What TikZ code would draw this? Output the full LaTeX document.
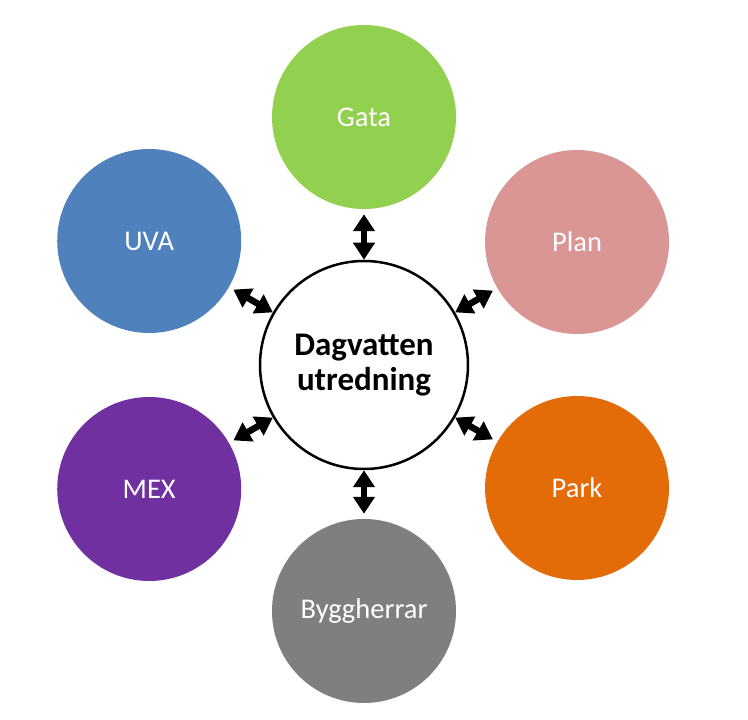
\documentclass[tikz,border=0pt]{standalone}
\usepackage{fontspec}
\setmainfont{Carlito}
\usetikzlibrary{arrows.meta}
\definecolor{gataColor}{HTML}{92D050}
\definecolor{planColor}{HTML}{D99694}
\definecolor{parkColor}{HTML}{E36C09}
\definecolor{byggColor}{HTML}{7F7F7F}
\definecolor{mexColor}{HTML}{7030A0}
\definecolor{uvaColor}{HTML}{4F81BD}
\tikzset{
  hub/.style={circle,draw=black,line width=2.5pt,fill=white,minimum size=208pt,inner sep=0pt,align=center,font=\bfseries\fontsize{33}{35}\selectfont},
  spoke/.style={circle,minimum size=184pt,inner sep=0pt,text=white,font=\fontsize{28.5}{32}\selectfont},
  link/.style={{Triangle[width=21pt,length=17pt]}-{Triangle[width=21pt,length=17pt]},line width=6.5pt,shorten >=5pt}
}

\begin{document}
\begin{tikzpicture}[x=1pt,y=1pt]
				\useasboundingbox (0,0) rectangle (748,720);
				\node[hub] (hub) at (364,355) {Dagvatten\\utredning};
				\node[spoke,fill=gataColor] (gata) at ([shift={(90:248)}]hub) {Gata};
				\node[spoke,fill=planColor] (plan) at ([shift={(30:246)}]hub) {Plan};
				\node[spoke,fill=parkColor] (park) at ([shift={(-30:246)}]hub) {Park};
				\node[spoke,fill=byggColor] (bygg) at ([shift={(-90:246)}]hub) {Byggherrar};
				\node[spoke,fill=mexColor] (mex) at ([shift={(-150:248)}]hub) {MEX};
				\node[spoke,fill=uvaColor] (uva) at ([shift={(150:248)}]hub) {UVA};
				% double arrows from the hub out to each circle
				\foreach \ring in {gata,plan,park,bygg,mex,uva}
					\draw[link] (hub) -- (\ring);
\end{tikzpicture}
\end{document}
